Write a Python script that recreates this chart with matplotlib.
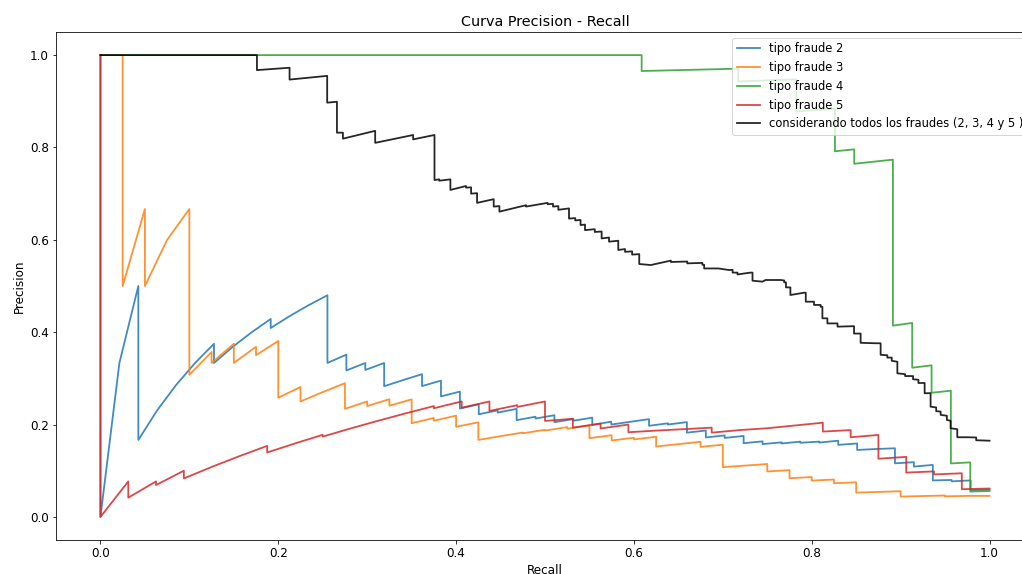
import matplotlib
matplotlib.use("Agg")
import matplotlib.pyplot as plt

# (recall, precision) vertices
fraude2 = [(0, 1), (0, 0), (0.0213, 0.3333), (0.0426, 0.5), (0.0426, 0.1667), (0.0638, 0.2308),
           (0.0851, 0.2857), (0.1064, 0.3333), (0.1277, 0.375), (0.1277, 0.3333), (0.1489, 0.3684),
           (0.1702, 0.4), (0.1915, 0.4286), (0.1915, 0.4091), (0.2128, 0.4348), (0.2340, 0.4583),
           (0.2553, 0.48), (0.2553, 0.3333), (0.2766, 0.3514), (0.2766, 0.3171), (0.2979, 0.3333),
           (0.2979, 0.3182), (0.3191, 0.3333), (0.3191, 0.2830), (0.3404, 0.2963), (0.3617, 0.3091),
           (0.3617, 0.2833), (0.3830, 0.2951), (0.3830, 0.2609), (0.4043, 0.2714), (0.4043, 0.2346),
           (0.4255, 0.2439), (0.4255, 0.2222), (0.4468, 0.2308), (0.4468, 0.2258), (0.4681, 0.2340),
           (0.4681, 0.2095), (0.4894, 0.2170), (0.4894, 0.2130), (0.5106, 0.2202), (0.5106, 0.2051),
           (0.5319, 0.2119), (0.5319, 0.2083), (0.5532, 0.2149), (0.5532, 0.1990), (0.5745, 0.2063),
           (0.5745, 0.2000), (0.5957, 0.2059), (0.6170, 0.2117), (0.6170, 0.1973), (0.6383, 0.2027),
           (0.6383, 0.2000), (0.6596, 0.2053), (0.6596, 0.1824), (0.6809, 0.1871), (0.6809, 0.1720),
           (0.7021, 0.1765), (0.7021, 0.1710), (0.7234, 0.1753), (0.7234, 0.1596), (0.7447, 0.1636),
           (0.7447, 0.1577), (0.7660, 0.1614), (0.7660, 0.1590), (0.7872, 0.1630), (0.7872, 0.1606),
           (0.8085, 0.1630), (0.8085, 0.1610), (0.8298, 0.1650), (0.8298, 0.1560), (0.8511, 0.1590),
           (0.8511, 0.1450), (0.8723, 0.1470), (0.8936, 0.1486), (0.8936, 0.1160), (0.9149, 0.1185),
           (0.9149, 0.1090), (0.9362, 0.1126), (0.9362, 0.0790), (0.9574, 0.0800), (0.9574, 0.0770),
           (0.9787, 0.0790), (0.9787, 0.0580), (1.0, 0.0590)]

fraude3 = [(0, 1), (0.025, 1), (0.025, 0.5), (0.05, 0.6667), (0.05, 0.5), (0.075, 0.6), (0.1, 0.6667),
           (0.1, 0.3077), (0.125, 0.3571), (0.125, 0.3333), (0.15, 0.375), (0.15, 0.3333), (0.175, 0.3684),
           (0.175, 0.35), (0.2, 0.381), (0.2, 0.2581), (0.225, 0.2813), (0.225, 0.25), (0.25, 0.2703),
           (0.275, 0.2895), (0.275, 0.234), (0.3, 0.25), (0.3, 0.24), (0.325, 0.2549), (0.325, 0.2407),
           (0.35, 0.2545), (0.35, 0.2029), (0.375, 0.2143), (0.375, 0.2083), (0.4, 0.2192), (0.4, 0.1951),
           (0.425, 0.2048), (0.425, 0.1667), (0.45, 0.1748), (0.475, 0.1827), (0.475, 0.181), (0.5, 0.1887),
           (0.5, 0.187), (0.525, 0.1944), (0.525, 0.1909), (0.55, 0.1982), (0.55, 0.1705), (0.575, 0.1769),
           (0.575, 0.1655), (0.6, 0.1714), (0.6, 0.1678), (0.625, 0.1736), (0.625, 0.1524), (0.65, 0.1576),
           (0.675, 0.1627), (0.675, 0.1517), (0.7, 0.1564), (0.7, 0.1077), (0.725, 0.1111), (0.75, 0.1145),
           (0.75, 0.0984), (0.775, 0.1013), (0.775, 0.0838), (0.8, 0.0863), (0.8, 0.0786), (0.825, 0.0809),
           (0.825, 0.0728), (0.85, 0.0749), (0.85, 0.0526), (0.875, 0.0541), (0.9, 0.0556), (0.9, 0.044),
           (0.925, 0.0452), (0.95, 0.0463), (0.95, 0.0445), (0.975, 0.0455), (1.0, 0.0455)]

fraude4 = [(0, 1), (0.6087, 1), (0.6087, 0.9655), (0.7174, 0.9706), (0.7174, 0.9429), (0.7826, 0.9474),
           (0.7826, 0.878), (0.8261, 0.8837), (0.8261, 0.7917), (0.8478, 0.7959), (0.8478, 0.7647),
           (0.8913, 0.7736), (0.8913, 0.4141), (0.913, 0.42), (0.913, 0.3231), (0.9348, 0.3282),
           (0.9348, 0.2688), (0.9565, 0.2733), (0.9565, 0.1158), (0.9783, 0.1181), (0.9783, 0.0549),
           (1.0, 0.056)]

fraude5 = [(0, 1), (0, 0), (0.0313, 0.0769), (0.0313, 0.0417), (0.0625, 0.0769), (0.0625, 0.069),
           (0.0938, 0.1), (0.0938, 0.0833), (0.125, 0.1081), (0.1563, 0.1316), (0.1875, 0.1538),
           (0.1875, 0.1395), (0.2188, 0.1591), (0.25, 0.1778), (0.25, 0.1739), (0.2813, 0.1915),
           (0.3125, 0.2083), (0.3438, 0.2245), (0.375, 0.24), (0.375, 0.2353), (0.4063, 0.25),
           (0.4063, 0.2364), (0.4375, 0.25), (0.4375, 0.2295), (0.4688, 0.2419), (0.4688, 0.2381),
           (0.5, 0.25), (0.5, 0.2078), (0.5313, 0.2125), (0.5313, 0.1932), (0.5625, 0.2022),
           (0.5625, 0.1915), (0.5938, 0.2), (0.5938, 0.1833), (0.625, 0.1869), (0.6563, 0.19),
           (0.6875, 0.1933), (0.6875, 0.1825), (0.7188, 0.188), (0.75, 0.192), (0.7813, 0.198),
           (0.8125, 0.204), (0.8125, 0.1848), (0.8438, 0.188), (0.8438, 0.1725), (0.875, 0.1775),
           (0.875, 0.126), (0.9063, 0.13), (0.9063, 0.096), (0.9375, 0.0985), (0.9375, 0.092),
           (0.9688, 0.0945), (0.9688, 0.06), (1.0, 0.0615)]

todos = [(0, 1), (0.176, 1), (0.176, 0.9675), (0.2127, 0.9726), (0.2127, 0.947), (0.255, 0.955),
         (0.255, 0.897), (0.266, 0.899), (0.266, 0.832), (0.2727, 0.832), (0.2727, 0.819), (0.309, 0.836),
         (0.309, 0.81), (0.3517, 0.827), (0.3517, 0.8175), (0.3757, 0.827), (0.3757, 0.7294),
         (0.381, 0.731), (0.381, 0.728), (0.3936, 0.7309), (0.3936, 0.708), (0.4112, 0.7165),
         (0.4112, 0.713), (0.4169, 0.7136), (0.4169, 0.70), (0.4236, 0.701), (0.4236, 0.680),
         (0.4423, 0.688), (0.4423, 0.672), (0.4487, 0.673), (0.4487, 0.661), (0.4787, 0.675),
         (0.4787, 0.672), (0.503, 0.680), (0.503, 0.677), (0.509, 0.678), (0.509, 0.672), (0.515, 0.673),
         (0.515, 0.665), (0.527, 0.668), (0.527, 0.646), (0.534, 0.647), (0.534, 0.642), (0.54, 0.643),
         (0.54, 0.632), (0.545, 0.633), (0.545, 0.621), (0.556, 0.623), (0.556, 0.617), (0.5637, 0.618),
         (0.5637, 0.603), (0.572, 0.605), (0.572, 0.596), (0.5824, 0.598), (0.5824, 0.578), (0.59, 0.580),
         (0.59, 0.574), (0.598, 0.575), (0.598, 0.568), (0.606, 0.569), (0.606, 0.5476), (0.619, 0.5454),
         (0.6416, 0.555), (0.6416, 0.552), (0.66, 0.553), (0.66, 0.549), (0.677, 0.550), (0.677, 0.546),
         (0.679, 0.546), (0.679, 0.538), (0.695, 0.538), (0.707, 0.5346), (0.711, 0.535), (0.711, 0.529),
         (0.7165, 0.529), (0.7165, 0.525), (0.731, 0.529), (0.7334, 0.529), (0.7334, 0.5115),
         (0.7446, 0.5094), (0.748, 0.513), (0.765, 0.513), (0.769, 0.512), (0.769, 0.508), (0.771, 0.508),
         (0.771, 0.497), (0.776, 0.497), (0.776, 0.4805), (0.7914, 0.4855), (0.7933, 0.4855),
         (0.7933, 0.466), (0.8026, 0.466), (0.8026, 0.459), (0.81, 0.459), (0.81, 0.455), (0.812, 0.455),
         (0.812, 0.43), (0.8176, 0.43), (0.8176, 0.419), (0.829, 0.419), (0.829, 0.412), (0.8457, 0.413),
         (0.8476, 0.413), (0.8476, 0.397), (0.855, 0.397), (0.855, 0.377), (0.872, 0.376), (0.8775, 0.376),
         (0.8775, 0.351), (0.885, 0.350), (0.885, 0.345), (0.89, 0.345), (0.89, 0.338), (0.8963, 0.336),
         (0.8963, 0.311), (0.905, 0.309), (0.905, 0.305), (0.914, 0.305), (0.914, 0.298), (0.92, 0.297),
         (0.92, 0.29), (0.927, 0.29), (0.927, 0.2677), (0.9337, 0.268), (0.9337, 0.2387), (0.94, 0.237),
         (0.94, 0.229), (0.945, 0.228), (0.945, 0.221), (0.952, 0.219), (0.952, 0.21), (0.9562, 0.208),
         (0.9562, 0.192), (0.9637, 0.19), (0.9637, 0.1725), (0.975, 0.1725), (0.985, 0.172),
         (0.985, 0.166), (1.0, 0.165)]

series = [(fraude2, "tipo fraude 2", "#1f77b4"),
          (fraude3, "tipo fraude 3", "#ff7f0e"),
          (fraude4, "tipo fraude 4", "#2ca02c"),
          (fraude5, "tipo fraude 5", "#d62728"),
          (todos, "considerando todos los fraudes (2, 3, 4 y 5 )", "black")]

plt.rcParams["font.size"] = 12
DPI = 72
fig = plt.figure(figsize=(1022 / DPI, 574 / DPI), dpi=DPI)
ax = fig.add_axes([56 / 1022, 34 / 574, 978 / 1022, 508 / 574])

for pts, label, color in series:
    rec = [p[0] for p in pts]
    prec = [p[1] for p in pts]
    ax.plot(rec, prec, color=color, label=label, alpha=0.85, linewidth=1.8)

ax.set_title("Curva Precision - Recall")
ax.set_xlabel("Recall")
ax.set_ylabel("Precision")
ax.legend(loc="upper right", fontsize=11.5)

fig.savefig("out.png", dpi=DPI)
